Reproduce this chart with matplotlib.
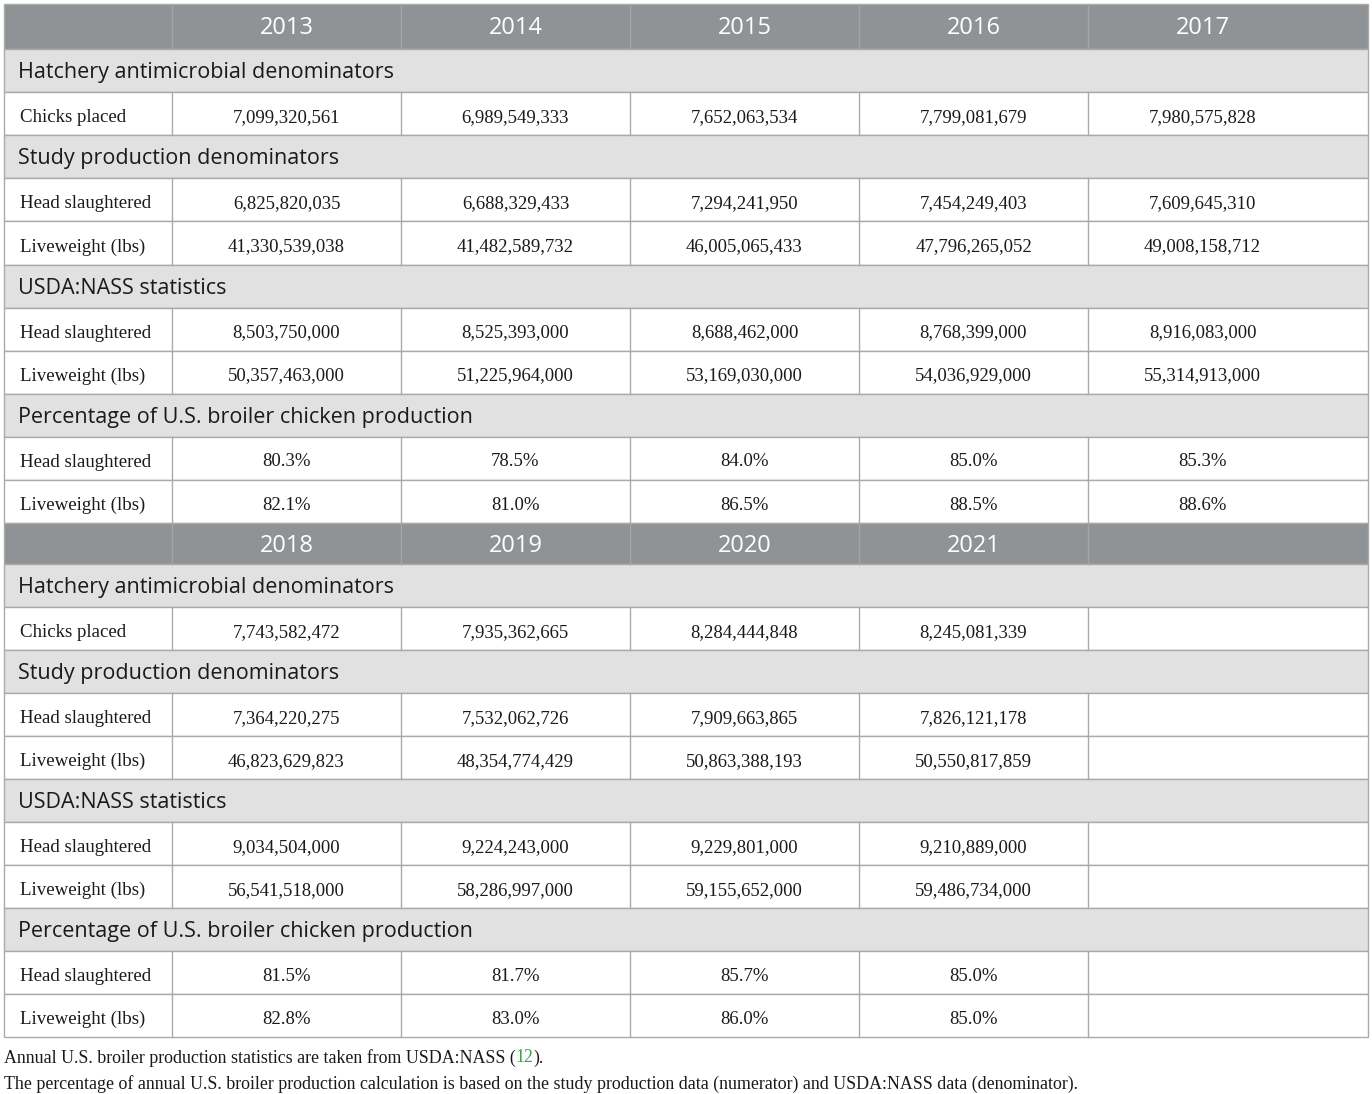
import matplotlib
matplotlib.use("Agg")
import matplotlib.pyplot as plt
from matplotlib.patches import Rectangle

# table data
years_top = ["2013", "2014", "2015", "2016", "2017"]
years_bottom = ["2018", "2019", "2020", "2021", ""]

sections = [
    "Hatchery antimicrobial denominators",
    "Study production denominators",
    "USDA:NASS statistics",
    "Percentage of U.S. broiler chicken production",
]
row_labels = [
    ["Chicks placed"],
    ["Head slaughtered", "Liveweight (lbs)"],
    ["Head slaughtered", "Liveweight (lbs)"],
    ["Head slaughtered", "Liveweight (lbs)"],
]

chicks_top = ["7,099,320,561", "6,989,549,333", "7,652,063,534", "7,799,081,679", "7,980,575,828"]
study_head_top = ["6,825,820,035", "6,688,329,433", "7,294,241,950", "7,454,249,403", "7,609,645,310"]
study_lw_top = ["41,330,539,038", "41,482,589,732", "46,005,065,433", "47,796,265,052", "49,008,158,712"]
nass_head_top = ["8,503,750,000", "8,525,393,000", "8,688,462,000", "8,768,399,000", "8,916,083,000"]
nass_lw_top = ["50,357,463,000", "51,225,964,000", "53,169,030,000", "54,036,929,000", "55,314,913,000"]
pct_head_top = ["80.3%", "78.5%", "84.0%", "85.0%", "85.3%"]
pct_lw_top = ["82.1%", "81.0%", "86.5%", "88.5%", "88.6%"]

chicks_bottom = ["7,743,582,472", "7,935,362,665", "8,284,444,848", "8,245,081,339", ""]
study_head_bottom = ["7,364,220,275", "7,532,062,726", "7,909,663,865", "7,826,121,178", ""]
study_lw_bottom = ["46,823,629,823", "48,354,774,429", "50,863,388,193", "50,550,817,859", ""]
nass_head_bottom = ["9,034,504,000", "9,224,243,000", "9,229,801,000", "9,210,889,000", ""]
nass_lw_bottom = ["56,541,518,000", "58,286,997,000", "59,155,652,000", "59,486,734,000", ""]
pct_head_bottom = ["81.5%", "81.7%", "85.7%", "85.0%", ""]
pct_lw_bottom = ["82.8%", "83.0%", "86.0%", "85.0%", ""]

footnotes = [
    ("Annual U.S. broiler production statistics are taken from USDA:NASS (", "12", ")."),
    ("The percentage of annual U.S. broiler production calculation is based on the study production data (numerator) and USDA:NASS data (denominator).", "", ""),
]

# styling
HEADER_BG = "#8f9396"
SECTION_BG = "#e0e1e0"
BORDER = "#a9abab"
SANS = "Open Sans"
SERIF = "Liberation Serif"
TXT = "#1a1a1a"

W, H = 1372, 1094
col_x = [4, 172, 401, 630, 859, 1088, 1368]
col_w = 229  # text is centred on a standard column width, even in the wide last one

fig = plt.figure(figsize=(W / 100, H / 100), dpi=100)
ax = fig.add_axes([0, 0, 1, 1])
ax.set_xlim(0, W)
ax.set_ylim(H, 0)
ax.axis("off")


def draw_block(y0, years, values, header_h, row_h):
    left, right = col_x[0], col_x[-1]
    y = y0
    # header
    ax.add_patch(Rectangle((left, y), right - left, header_h, facecolor=HEADER_BG, edgecolor=BORDER, lw=1))
    for i, yr in enumerate(years):
        cx = col_x[i + 1] + col_w / 2
        ax.text(cx, y + header_h / 2 + 2, yr, ha="center", va="center", color="white",
                fontsize=17, family=SANS)
    for xv in col_x[1:-1]:
        ax.plot([xv, xv], [y, y + header_h], color="#a3a6a8", lw=1)
    y += header_h
    vi = 0
    for s, labels in zip(sections, row_labels):
        ax.add_patch(Rectangle((left, y), right - left, row_h, facecolor=SECTION_BG, edgecolor=BORDER, lw=1))
        ax.text(left + 14, y + row_h / 2 + 2, s, ha="left", va="center", color=TXT,
                fontsize=15.5, family=SANS)
        y += row_h
        for lab in labels:
            ax.add_patch(Rectangle((left, y), right - left, row_h, facecolor="white", edgecolor=BORDER, lw=1))
            for xv in col_x[1:-1]:
                ax.plot([xv, xv], [y, y + row_h], color=BORDER, lw=1)
            ax.text(left + 16, y + row_h / 2 + 4, lab, ha="left", va="center", color=TXT,
                    fontsize=13.6, family=SERIF)
            for i, v in enumerate(values[vi]):
                cx = col_x[i + 1] + col_w / 2
                ax.text(cx, y + row_h / 2 + 3.5, v, ha="center", va="center", color=TXT,
                        fontsize=13.5, family=SERIF)
            vi += 1
            y += row_h
    return y


top_values = [chicks_top, study_head_top, study_lw_top, nass_head_top, nass_lw_top, pct_head_top, pct_lw_top]
bottom_values = [chicks_bottom, study_head_bottom, study_lw_bottom, nass_head_bottom, nass_lw_bottom,
                 pct_head_bottom, pct_lw_bottom]

y_end = draw_block(4, years_top, top_values, 45, 43.1)
y_end = draw_block(y_end, years_bottom, bottom_values, 41, 43.0)

# footnotes
fy = [1058, 1084]
for (pre, ref, post), yy in zip(footnotes, fy):
    t = ax.text(4, yy, pre, ha="left", va="center", fontsize=12.9, family=SERIF, color=TXT)
    if ref:
        fig.canvas.draw()
        bb = t.get_window_extent()
        x1 = ax.transData.inverted().transform((bb.x1, 0))[0]
        t2 = ax.text(x1, yy, ref, ha="left", va="center", fontsize=12.9, family=SERIF, color="#3aa639")
        fig.canvas.draw()
        bb2 = t2.get_window_extent()
        x2 = ax.transData.inverted().transform((bb2.x1, 0))[0]
        ax.text(x2, yy, post, ha="left", va="center", fontsize=12.9, family=SERIF, color=TXT)

fig.savefig("out.png", dpi=100)
plt.close(fig)
